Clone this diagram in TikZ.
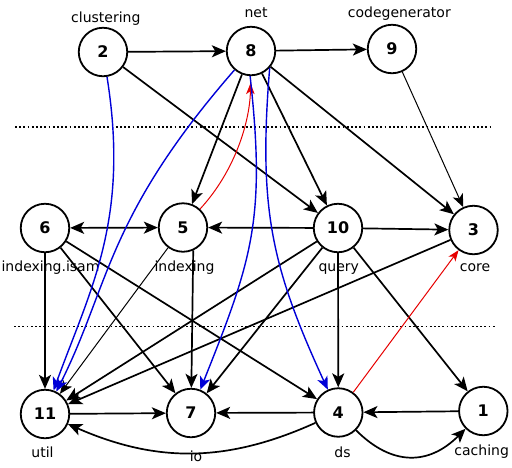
\documentclass[tikz,border=0pt]{standalone}
\usepackage{fontspec}
\setmainfont{DejaVu Sans}
\usetikzlibrary{arrows.meta}
\definecolor{eblue}{RGB}{0,0,215}
\definecolor{ered}{RGB}{230,0,0}
\begin{document}
\begin{tikzpicture}[x=1pt,y=1pt,
  vtx/.style={circle,draw,line width=1.8pt,minimum size=48.5pt,inner sep=0pt,
    font=\fontsize{16}{16}\selectfont\bfseries},
  lbl/.style={anchor=base,inner sep=0pt,font=\fontsize{14}{14}\selectfont},
  e/.style={line width=1.7pt,-{Stealth[length=14pt,width=12pt,inset=3.5pt]}},
  thine/.style={line width=1pt,-{Stealth[length=13pt,width=11pt,inset=3.5pt]}},
  dbl/.style={line width=1.7pt,{Stealth[length=14pt,width=12pt,inset=3.5pt]}-{Stealth[length=14pt,width=12pt,inset=3.5pt]}},
  be/.style={eblue,line width=1.4pt,-{Stealth[length=13pt,width=11pt,inset=3.5pt]}},
  re/.style={ered,line width=1pt,-{Stealth[length=11pt,width=8.5pt,inset=3pt]}},
  sep/.style={line width=1.6pt,dash pattern=on 1.8pt off 2.4pt}]
\useasboundingbox (0,0) rectangle (512,-467);

% separators
\draw[sep] (15,-127) -- (493,-127);
\draw[sep] (14,-326.5) -- (496,-326.5);

% vertices
\node[vtx] (n2) at (103,-52) {2};
\node[vtx] (n8) at (251,-51) {8};
\node[vtx] (n9) at (392,-49) {9};
\node[vtx] (n6) at (45,-228) {6};
\node[vtx] (n5) at (183,-227.5) {5};
\node[vtx] (n10) at (338,-228) {10};
\node[vtx] (n3) at (473.5,-230) {3};
\node[vtx] (n11) at (45,-414) {11};
\node[vtx] (n7) at (191,-413) {7};
\node[vtx] (n4) at (338.3,-412.5) {4};
\node[vtx] (n1) at (483.3,-411) {1};

% labels
\node[lbl] (l2) at (105.8,-22) {clustering};
\node[lbl] (l8) at (256,-17) {net};
\node[lbl] (l9) at (399.3,-17) {codegenerator};
\node[lbl] (l6) at (50.5,-271.5) {indexing.isam};
\node[lbl] (l5) at (184.5,-271) {indexing};
\node[lbl] (l10) at (338.8,-271.5) {query};
\node[lbl] (l3) at (475,-271) {core};
\node[lbl] (l11) at (42.5,-457.5) {util};
\node[lbl] (l7) at (196,-461.5) {io};
\node[lbl] (l4) at (342.5,-457.5) {ds};
\node[lbl] (l1) at (481.7,-455.5) {caching};

% black edges
\draw[e] (n2) -- (n8);
\draw[e] (n8) -- (n9);
\draw[e] (n2) -- (n10);
\draw[e] (n8) -- (n5);
\draw[e] (n8) -- (n10);
\draw[e] (n8) -- (n3);
\draw[thine] (n9) -- (n3);
\draw[e] (n10) -- (n5);
\draw[e] (n10) -- (n3);
\draw[dbl] (n6) -- (n5);
\draw[e] (n6) -- (n11);
\draw[e] (n6) -- (n7);
\draw[e] (n6) -- (n4);
\draw[thine] (n5) -- (n11);
\draw[e] (n5.-66) -- (n7);
\draw[e] (n10) -- (n11);
\draw[e] (n10) -- (n7);
\draw[e] (n10) -- (n4);
\draw[e] (n10) -- (n1);
\draw[e] (n3) -- (n11);
\draw[e] (n11) -- (n7);
\draw[e] (n4) -- (n7);
\draw[e] (n1) -- (n4);
\draw[e] (n4) to[bend left=24] (n11);
\draw[e] (n4) to[out=-45,in=-135,looseness=1.2] (n1);

% red edges
\draw[re] (n4) -- (n3);
\draw[re,shorten >=7pt] (n5) .. controls (236,-170) and (250,-120) .. (n8);

% blue edges
\draw[be] (n2) .. controls (130,-220) and (90,-290) .. (n11);
\draw[be] (n8) .. controls (105.5,-218) and (110,-285) .. (n11);
\draw[be] (n8.-92) .. controls (266,-220) and (252,-260) .. (n7);
\draw[be] (n8.-42) .. controls (258,-210) and (272,-268) .. (n4);
\end{tikzpicture}
\end{document}
